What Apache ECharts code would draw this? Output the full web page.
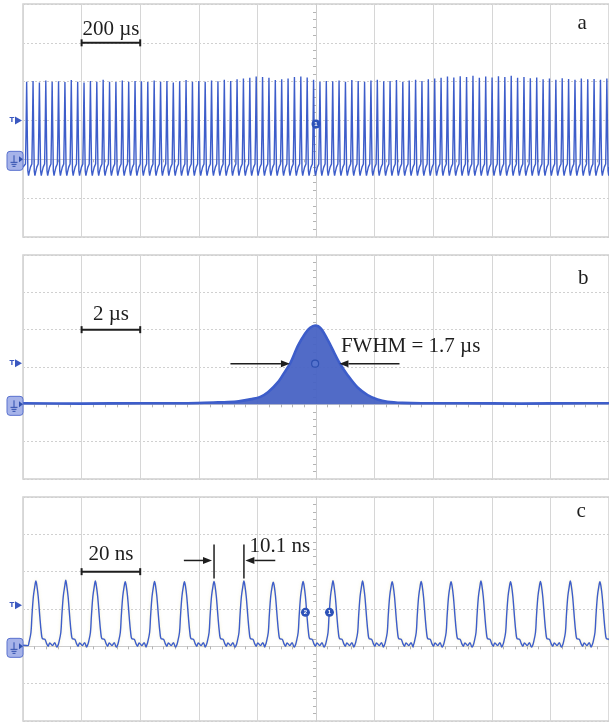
<!DOCTYPE html>
<html><head><meta charset="utf-8">
<script src="https://cdn.jsdelivr.net/npm/echarts/dist/echarts.min.js"></script>
<style>html,body{margin:0;padding:0;background:#fff}#c{width:609px;height:722px}</style>
</head><body><div id="c"></div>
<script>
// ---------- Panel a: pulse train, 200 µs/div (time relative to screen centre, µs; amplitude in divisions) ----------
const aPeakTimes = [-987.5,-965.7,-944.0,-922.2,-900.5,-878.7,-856.9,-835.2,-813.4,-791.7,-769.9,-748.1,-726.4,-704.6,-682.9,-661.1,-639.3,-617.6,-595.8,-574.1,-552.3,-530.5,-508.8,-487.0,-465.3,-443.5,-421.7,-400.0,-378.2,-356.5,-334.7,-312.9,-291.2,-269.4,-247.7,-225.9,-204.1,-182.4,-160.6,-138.9,-117.1,-95.3,-73.6,-51.8,-30.1,-8.3,13.5,35.2,57.0,78.7,100.5,122.3,144.0,165.8,187.5,209.3,231.1,252.8,274.6,296.3,318.1,339.9,361.6,383.4,405.1,426.9,448.7,470.4,492.2,513.9,535.7,557.5,579.2,601.0,622.7,644.5,666.3,688.0,709.8,731.5,753.3,775.1,796.8,818.6,840.3,862.1,883.9,905.6,927.4,949.1,970.9,992.7];
const aPeakHeights = [2.00,2.02,1.98,2.03,2.00,2.01,1.99,2.04,2.00,1.98,2.02,2.00,2.05,2.00,1.99,2.03,2.00,2.02,
  2.01,1.99,2.03,2.00,2.02,1.98,2.01,2.04,2.00,2.02,
  2.00,2.03,2.01,2.05,2.02,2.06,2.08,2.10,2.13,2.12,2.10,2.04,2.06,2.08,2.12,2.13,2.11,2.05,
  2.00,2.02,2.01,2.03,2.00,2.04,2.02,2.00,2.03,2.05,2.01,2.02,2.04,2.00,2.03,2.05,2.02,2.06,
  2.08,2.10,2.13,2.11,2.14,2.12,2.15,2.10,2.13,2.11,2.14,2.12,2.15,2.10,2.12,2.09,2.11,
  2.06,2.08,2.05,2.09,2.07,2.05,2.08,2.06,2.07,2.05,2.08];
const aPulseOffsets = [-8.8,-4.1,-2.4,0,2.4,4.1,6.4,8.8];       // µs from each peak
const aPulseShape   = [-0.20,-0.12,0.60,null,0.55,-0.30,-0.42,-0.33]; // null = the peak height

// ---------- Panel b: envelope, 2 µs/div ----------
const bTimes = [-10,-8,-6,-4.5,-3.5,-3.0,-2.64,-2.2,-1.9,-1.63,-1.29,-1.08,-0.88,-0.61,-0.37,-0.2,-0.03,0.17,0.41,0.61,0.81,1.08,1.42,1.76,2.1,2.44,2.95,3.6,5,7,9,10];
const bEnvelope = [0.03,0.02,0.03,0.03,0.05,0.06,0.08,0.14,0.2,0.33,0.6,0.85,1.1,1.58,1.9,2.05,2.11,2.03,1.71,1.4,1.1,0.78,0.45,0.25,0.13,0.07,0.04,0.03,0.03,0.02,0.03,0.03];

// ---------- Panel c: resolved pulses, 20 ns/div ----------
const cPeakTimes = [-95.6,-85.4,-75.3,-65.1,-55.1,-44.9,-34.8,-24.6,-14.6,-4.4,5.8,15.9,26.0,35.9,46.1,56.3,66.4,76.6,86.8,96.9];
const cPeakHeights = [1.75,1.77,1.75,1.73,1.74,1.73,1.74,1.75,1.72,1.74,1.76,1.75,1.73,1.74,1.73,1.75,1.73,1.74,1.75,1.73];
const cPulseOffsets = [-2.71,-2.37,-1.69,-1.36,-0.85,-0.34,0,0.34,0.78,1.36,1.8,2.27,3.05,3.63,4.17,4.75,5.66,6.44,7.12]; // ns
const cPulseShape   = [0.02,0.10,0.37,0.80,1.34,1.62,null,1.62,1.34,0.78,0.40,0.20,0.19,0.08,0.00,0.09,0.02,0.10,-0.02];

// trigger levels / labels
const trigLevels = [1.0, 1.1, 1.1];

function pulseTrain(times, heights, offs, shape, x0, x1, base){
  const d = [[x0, base]];
  times.forEach((t,i)=>offs.forEach((o,j)=>d.push([t+o, shape[j]===null ? heights[i] : shape[j]])));
  d.push([x1, base]);
  return d;
}
const aData = pulseTrain(aPeakTimes, aPeakHeights, aPulseOffsets, aPulseShape, -1000, 1000, -0.2);
const bData = bTimes.map((t,i)=>[t, bEnvelope[i]]);
const cData = pulseTrain(cPeakTimes, cPeakHeights, cPulseOffsets, cPulseShape, -100, 110, 0.03);

const chart = echarts.init(document.getElementById('c'), null, {renderer:'canvas'});
const traceColor = '#3d5dca';
const gridBox = [
  {top:4, height:233}, {top:255, height:224}, {top:497, height:224}
];
const xr = [[-1000,1000,200],[-10,10,2],[-100,100,20]];

const option = {
  animation:false,
  backgroundColor:'#fff',
  grid: gridBox.map(g=>({left:23, width:590, top:g.top, height:g.height, show:true, borderColor:'#d0d0d0', borderWidth:1.5, backgroundColor:'#fff'})),
  xAxis: xr.map((r,i)=>({
    type:'value', gridIndex:i, min:r[0], max:r[1], interval:r[2],
    axisLabel:{show:false}, axisTick:{show:false},
    axisLine:{show:true, onZero:true, lineStyle:{color:'#cdcdcd', width:1}},
    minorTick:{show:true, splitNumber:5, length:3, lineStyle:{color:'#b4b4b4'}},
    splitLine:{show:true, lineStyle:{color:'#d6d6d6', width:1}}
  })),
  yAxis: [0,1,2].map(i=>({
    type:'value', gridIndex:i, min:-2, max:4, interval:1,
    axisLabel:{show:false}, axisTick:{show:false},
    axisLine:{show:true, onZero:true, lineStyle:{color:'#cdcdcd', width:1}},
    minorTick:{show:true, splitNumber:5, length:3, lineStyle:{color:'#b4b4b4'}},
    splitLine:{show:true, lineStyle:{color:'#d0d0d0', width:1, type:[2,2]}}
  })),
  series:[
    {type:'line', xAxisIndex:0, yAxisIndex:0, data:aData, showSymbol:false, clip:true,
     lineStyle:{color:traceColor, width:1.4}, z:5},
    {type:'line', xAxisIndex:1, yAxisIndex:1, data:bData, showSymbol:false, smooth:0.3, clip:true,
     lineStyle:{color:traceColor, width:2.6}, areaStyle:{color:'#4863c4', opacity:0.95}, z:5},
    {type:'line', xAxisIndex:2, yAxisIndex:2, data:cData, showSymbol:false, smooth:0.35, clip:true,
     lineStyle:{color:traceColor, width:1.4, shadowColor:'rgba(235,225,140,0.5)', shadowBlur:3}, z:5}
  ]
};
chart.setOption(option);

// ---------- annotations, placed through the axes ----------
function P(g,x,y){ return chart.convertToPixel({gridIndex:g},[x,y]); }
const G = [];
const ink = '#1e1e1e';
const serif = '21px "Liberation Serif", "Times New Roman", serif';
function line(a,b,w,c){ G.push({type:'line', shape:{x1:a[0],y1:a[1],x2:b[0],y2:b[1]}, style:{stroke:c||ink, lineWidth:w||1.5}, z:100}); }
function text(p,s,align){ const al=align||'center'; G.push({type:'text', x:p[0], y:p[1], style:{text:s, font:serif, fill:ink, align:al, verticalAlign:'middle', textAlign:al, textVerticalAlign:'middle'}, z:100}); }
function scaleBar(g,x1,x2,y,label,ty){
  const a=P(g,x1,y), b=P(g,x2,y);
  line(a,b,2); line([a[0],a[1]-3.5],[a[0],a[1]+3.5],2); line([b[0],b[1]-3.5],[b[0],b[1]+3.5],2);
  text(P(g,(x1+x2)/2,ty),label);
}
function arrow(g,xFrom,xTo,y){
  const a=P(g,xFrom,y), b=P(g,xTo,y), dir=Math.sign(b[0]-a[0]), hl=9;
  line(a,[b[0]-dir*hl,b[1]],1.5);
  G.push({type:'polygon', shape:{points:[[b[0],b[1]],[b[0]-dir*hl,b[1]-3.5],[b[0]-dir*hl,b[1]+3.5]]}, style:{fill:ink}, z:100});
}
function dot(g,x,y,label,ring){
  const p=P(g,x,y);
  if(ring){
    G.push({type:'circle', shape:{cx:p[0],cy:p[1],r:3.5}, style:{fill:'rgba(90,120,210,0.7)', stroke:'#2d4fb0', lineWidth:1.2}, z:100});
  } else {
    G.push({type:'circle', shape:{cx:p[0],cy:p[1],r:4.5}, style:{fill:'#2d52b8'}, z:100});
    G.push({type:'text', x:p[0], y:p[1], style:{text:label, font:'bold 6px sans-serif', fill:'#fff', align:'center', verticalAlign:'middle', textAlign:'center', textVerticalAlign:'middle'}, z:101});
  }
}
function scopeMarks(g,tl){
  const ty=P(g,0,tl)[1], gy=P(g,0,0)[1], blue='#3a58c0';
  G.push({type:'text', x:12, y:ty, style:{text:'T', font:'bold 7px "DejaVu Sans", sans-serif', fill:blue, align:'center', verticalAlign:'middle', textAlign:'center', textVerticalAlign:'middle'}, z:100});
  G.push({type:'polygon', shape:{points:[[15,ty-4],[22,ty],[15,ty+4]]}, style:{fill:blue}, z:100});
  G.push({type:'rect', shape:{x:7, y:gy-8, width:16, height:19, r:3}, style:{fill:'#a6b3e9', stroke:'#5a72cf', lineWidth:1}, z:100});
  line([14,gy-4],[14,gy+3],1,'#2f4fae');
  line([10.5,gy+3],[17.5,gy+3],1,'#2f4fae');
  line([11.5,gy+5],[16.5,gy+5],1,'#2f4fae');
  line([12.5,gy+7],[15.5,gy+7],1,'#2f4fae');
  G.push({type:'polygon', shape:{points:[[19,gy-3],[23,gy],[19,gy+3]]}, style:{fill:'#2f4fae'}, z:101});
}

// panel a
scaleBar(0,-800,-600,3,'200 µs',3.35);
text(P(0,908,3.5),'a');
dot(0,0,0.91,'1');
// panel b
scaleBar(1,-8,-6,2,'2 µs',2.42);
text(P(1,9.12,3.36),'b');
text(P(1,0.85,1.54),'FWHM = 1.7 µs','left');
arrow(1,-2.92,-0.89,1.09);
arrow(1,2.85,0.80,1.09);
dot(1,-0.03,1.09,'',true);
// panel c
scaleBar(2,-80,-60,2,'20 ns',2.45);
text(P(2,90.5,3.62),'c');
text(P(2,-22.7,2.67),'10.1 ns','left');
[cPeakTimes[6],cPeakTimes[7]].forEach(t=>line(P(2,t,2.73),P(2,t,1.82),1.5));
arrow(2,-45.1,-35.5,2.3);
arrow(2,-13.9,-24.1,2.3);
dot(2,-3.6,0.91,'2');
dot(2,4.6,0.91,'1');
[0,1,2].forEach(g=>scopeMarks(g,trigLevels[g]));

chart.setOption({graphic:G});
</script>
</body></html>
